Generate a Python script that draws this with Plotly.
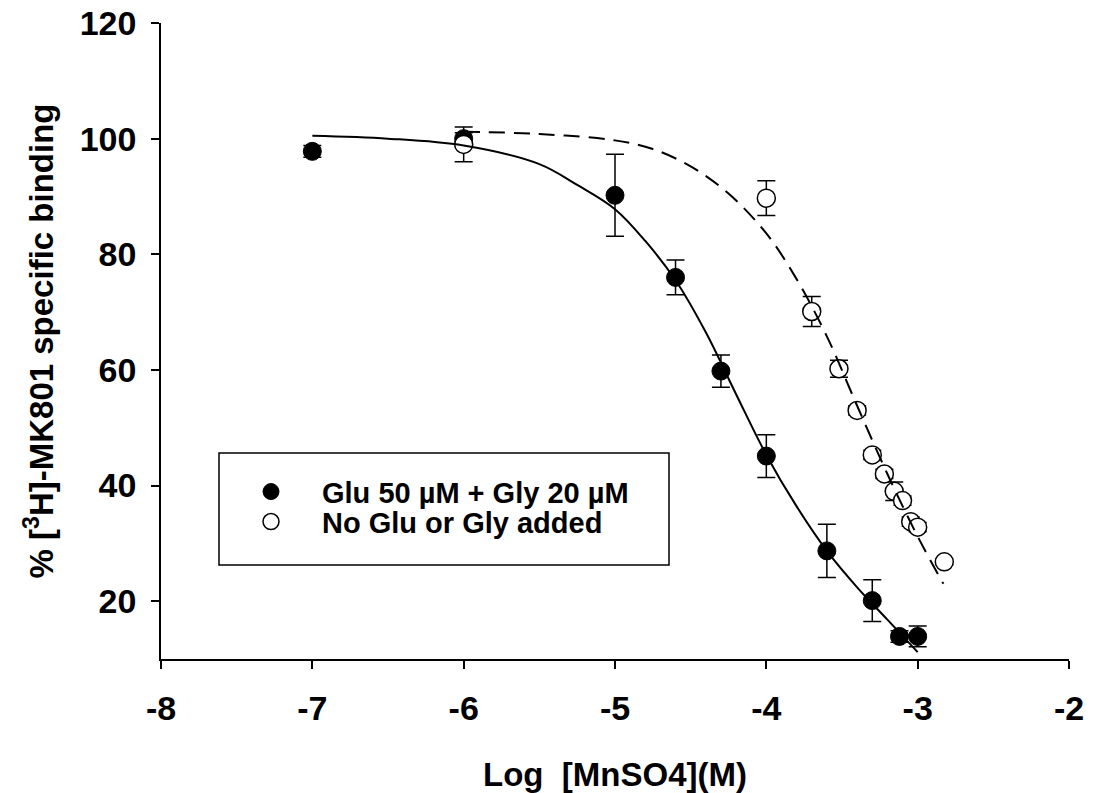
import plotly.graph_objects as go

# ---- data ----
glu_x = [-7.0, -6.0, -5.0, -4.6, -4.3, -4.0, -3.6, -3.3, -3.12, -3.0]
glu_y = [97.8, 100.0, 90.2, 76.0, 59.8, 45.1, 28.7, 20.1, 13.9, 13.9]
glu_err = [1.0, 1.0, 7.1, 3.0, 2.8, 3.7, 4.6, 3.6, 1.0, 1.8]

no_x = [-6.0, -4.0, -3.7, -3.52, -3.4, -3.3, -3.22, -3.155, -3.1, -3.046, -3.0, -2.824]
no_y = [99.0, 89.7, 70.1, 60.2, 53.0, 45.3, 42.0, 39.0, 37.4, 33.75, 32.8, 26.8]
no_err = [3.0, 3.0, 2.6, 1.45, 0.8, 0.8, 0.8, 1.6, 0.8, 0.8, 0.8, 0.5]

# fitted curves, points
fit_glu_x = [-7.0, -6.5, -6.0, -5.5, -5.25, -5.0, -4.8, -4.6, -4.4, -4.2, -4.0,
             -3.8, -3.6, -3.4, -3.2, -3.0]
fit_glu_y = [100.5, 100.0, 98.8, 95.6, 92.0, 87.8, 82.3, 75.5, 66.5, 55.8, 45.3,
             36.4, 28.7, 22.4, 16.8, 11.2]

fit_no_x = [-6.0, -5.5, -5.0, -4.75, -4.5, -4.25, -4.0, -3.8, -3.6, -3.4, -3.2, -3.0, -2.83]
fit_no_y = [101.2, 100.8, 99.7, 98.2, 95.2, 90.5, 83.6, 75.7, 65.8, 53.8, 42.0, 31.2, 23.0]

x_ticks = [-8, -7, -6, -5, -4, -3, -2]
y_ticks = [20, 40, 60, 80, 100, 120]

FONT = "Liberation Sans, Arial, sans-serif"

fig = go.Figure()

fig.add_trace(go.Scatter(
    x=glu_x, y=glu_y, mode="markers", name="Glu 50 µM + Gly 20 µM",
    marker=dict(symbol="circle", size=18, color="black", line=dict(color="black", width=1)),
    error_y=dict(type="data", array=glu_err, color="black", thickness=1.5, width=9),
    legend="legend",
))
fig.add_trace(go.Scatter(
    x=no_x, y=no_y, mode="markers", name="No Glu or Gly added",
    marker=dict(symbol="circle", size=18, color="white", line=dict(color="black", width=1.5)),
    error_y=dict(type="data", array=no_err, color="black", thickness=1.5, width=9),
    legend="legend2",
))
fig.add_trace(go.Scatter(
    x=fit_glu_x, y=fit_glu_y, mode="lines", showlegend=False,
    line=dict(color="black", width=2, shape="spline", smoothing=1.0),
))
fig.add_trace(go.Scatter(
    x=fit_no_x, y=fit_no_y, mode="lines", showlegend=False,
    line=dict(color="black", width=2, dash="16px,9px", shape="spline", smoothing=1.0),
))

W, H = 1093, 793
# plot area in page pixels: x 161..1069, y 23..659
PL, PR, PT, PB = 161, 1069, 23, 659
def px(xp):
    return (xp - PL) / (PR - PL)
def py(yp):
    return (PB - yp) / (PB - PT)

fig.add_shape(type="rect", xref="paper", yref="paper",
              x0=px(219), x1=px(669), y0=py(565), y1=py(453),
              line=dict(color="black", width=1.5))

legend_common = dict(xanchor="left", yanchor="middle", bgcolor="rgba(0,0,0,0)",
                     borderwidth=0, itemwidth=92,
                     font=dict(family=FONT, size=29, color="black", weight="bold"))

fig.update_layout(
    template="none",
    width=W, height=H,
    margin=dict(l=PL, r=W - PR, t=PT, b=H - PB),
    paper_bgcolor="white", plot_bgcolor="white",
    font=dict(family=FONT, color="black", size=28, weight="bold"),
    legend=dict(x=px(220), y=py(491.7), **legend_common),
    legend2=dict(x=px(220), y=py(521.7), **legend_common),
    xaxis=dict(range=[-8, -2], tickvals=x_ticks, ticktext=[str(v) for v in x_ticks],
               automargin=False, ticklabeloverflow="allow",
               showline=True, linecolor="black", linewidth=1.5,
               ticks="outside", ticklen=8, tickwidth=1.5, tickcolor="black",
               showgrid=False, zeroline=False, ticklabelstandoff=10,
               tickfont=dict(family=FONT, size=34, weight="bold"),
               title=dict(text="Log\u00a0 [MnSO4](M)", standoff=41,
                          font=dict(family=FONT, size=33, weight="bold"))),
    yaxis=dict(range=[10, 120], tickvals=y_ticks, ticktext=[str(v) for v in y_ticks],
               automargin=False, ticklabeloverflow="allow",
               showline=True, linecolor="black", linewidth=1.5,
               ticks="outside", ticklen=8, tickwidth=1.5, tickcolor="black",
               showgrid=False, zeroline=False, ticklabelstandoff=8,
               tickfont=dict(family=FONT, size=34, weight="bold"),
               title=dict(text="% [<sup>3</sup>H]-MK801 specific binding", standoff=16,
                          font=dict(family=FONT, size=33, weight="bold"))),
)

fig.write_html("out.html",
               config={"displayModeBar": False},
               post_script="document.body.style.margin='0';document.body.style.overflow='hidden';")
